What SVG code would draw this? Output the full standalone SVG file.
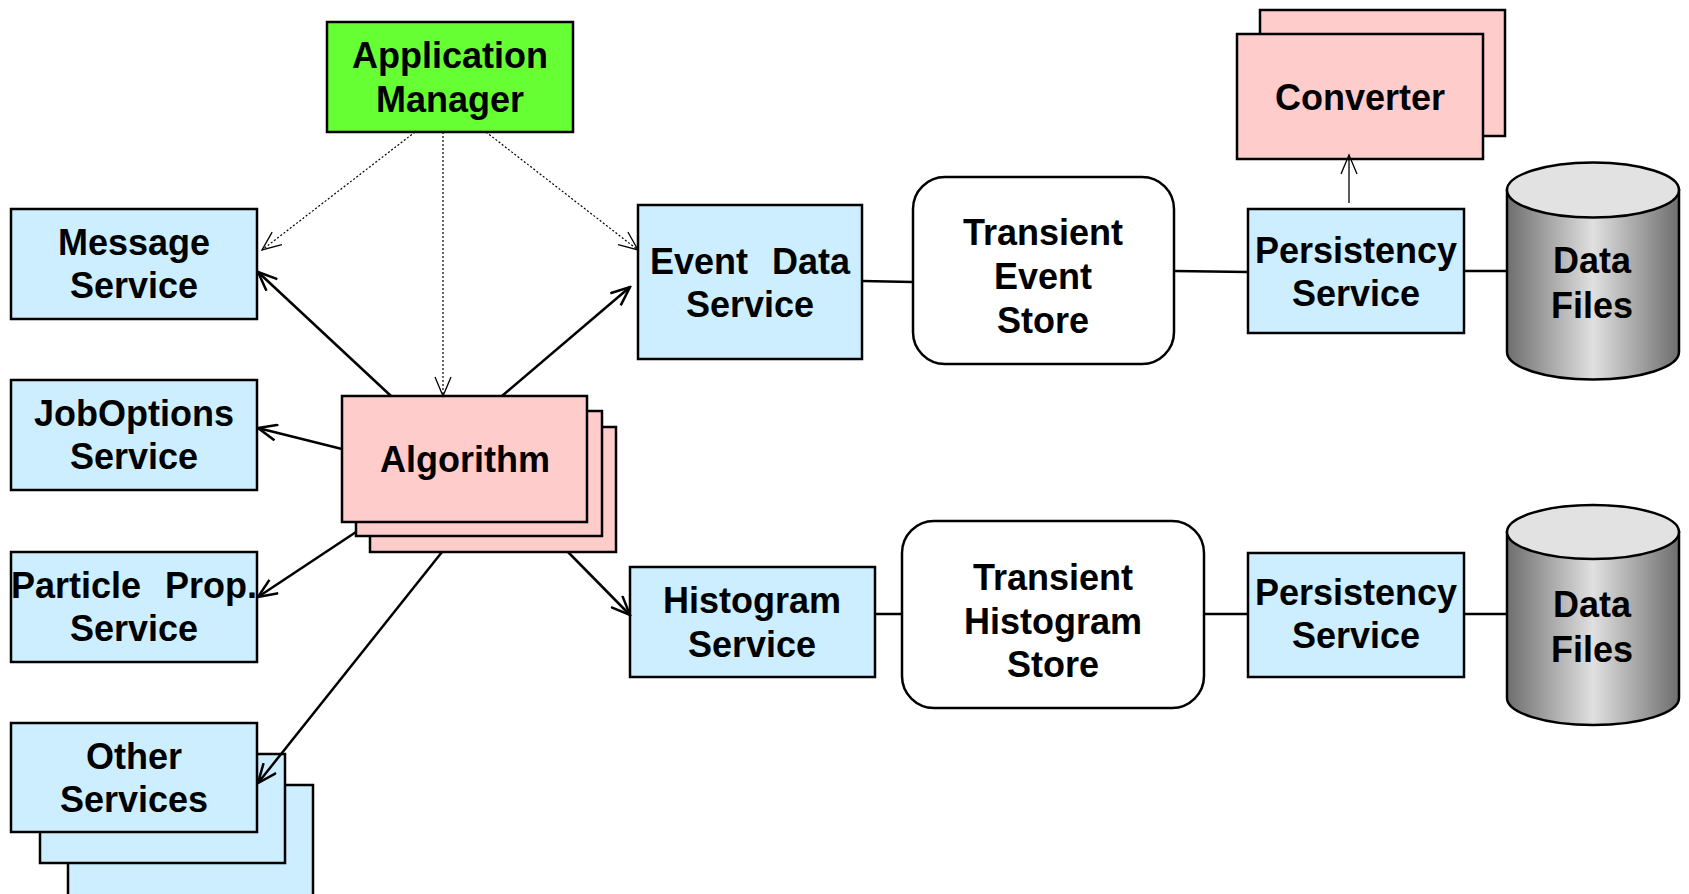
<svg xmlns="http://www.w3.org/2000/svg" width="1689" height="894" viewBox="0 0 1689 894">
<defs>
<style>
.box{stroke:#000;stroke-width:2.5}
.blue{fill:#cceeff}
.pink{fill:#ffcccc}
.green{fill:#66ff33}
.store{fill:#fff;stroke:#000;stroke-width:2.5}
.t{font-family:"Liberation Sans",Arial,sans-serif;font-weight:bold;font-size:36px;text-anchor:middle;fill:#000;word-spacing:14px}
.c{stroke:#000;stroke-width:2.5;fill:none}
.d{stroke:#000;stroke-width:1.2;fill:none;stroke-dasharray:2 2}
.thin{stroke:#000;stroke-width:1.3;fill:none}
</style>
<marker id="ah" viewBox="0 0 22 18" refX="20" refY="9" markerWidth="22" markerHeight="18" markerUnits="userSpaceOnUse" orient="auto">
<path d="M1,1 L20,9 L1,17" fill="none" stroke="#000" stroke-width="2.5"/>
</marker>
<marker id="ahd" viewBox="0 0 22 18" refX="20" refY="9" markerWidth="22" markerHeight="18" markerUnits="userSpaceOnUse" orient="auto">
<path d="M1,1 L20,9 L1,17" fill="none" stroke="#000" stroke-width="1.3"/>
</marker>
<linearGradient id="cyl" x1="0" y1="0" x2="1" y2="0">
<stop offset="0" stop-color="#6e6e6e"/>
<stop offset="0.5" stop-color="#e0e0e0"/>
<stop offset="1" stop-color="#6e6e6e"/>
</linearGradient>
</defs>
<rect width="1689" height="894" fill="#fff"/>

<g id="app-manager">
<rect class="box green" x="327" y="22" width="246" height="110"/>
<text class="t" x="450" y="68">Application</text>
<text class="t" x="450" y="112">Manager</text>
</g>

<g id="message-service">
<rect class="box blue" x="11" y="209" width="246" height="110"/>
<text class="t" x="134" y="255">Message</text>
<text class="t" x="134" y="298">Service</text>
</g>

<g id="joboptions-service">
<rect class="box blue" x="11" y="380" width="246" height="110"/>
<text class="t" x="134" y="426">JobOptions</text>
<text class="t" x="134" y="469">Service</text>
</g>

<g id="particle-service">
<rect class="box blue" x="11" y="552" width="246" height="110"/>
<text class="t" x="134" y="598">Particle Prop.</text>
<text class="t" x="134" y="641">Service</text>
</g>

<g id="other-services">
<rect class="box blue" x="68" y="785" width="245" height="120"/>
<rect class="box blue" x="40" y="754" width="245" height="109"/>
<rect class="box blue" x="11" y="723" width="246" height="109"/>
<text class="t" x="134" y="769">Other</text>
<text class="t" x="134" y="812">Services</text>
</g>

<g id="algorithm">
<rect class="box pink" x="370" y="427" width="246" height="125"/>
<rect class="box pink" x="356" y="411" width="246" height="125"/>
<rect class="box pink" x="342" y="396" width="245" height="126"/>
<text class="t" x="465" y="472">Algorithm</text>
</g>

<g id="event-data-service">
<rect class="box blue" x="638" y="205" width="224" height="154"/>
<text class="t" x="750" y="274">Event Data</text>
<text class="t" x="750" y="317">Service</text>
</g>

<g id="histogram-service">
<rect class="box blue" x="630" y="567" width="245" height="110"/>
<text class="t" x="752" y="613">Histogram</text>
<text class="t" x="752" y="657">Service</text>
</g>

<g id="transient-event-store">
<rect class="store" x="913" y="177" width="261" height="187" rx="32"/>
<text class="t" x="1043" y="245">Transient</text>
<text class="t" x="1043" y="289">Event</text>
<text class="t" x="1043" y="333">Store</text>
</g>

<g id="transient-histogram-store">
<rect class="store" x="902" y="521" width="302" height="187" rx="32"/>
<text class="t" x="1053" y="590">Transient</text>
<text class="t" x="1053" y="634">Histogram</text>
<text class="t" x="1053" y="677">Store</text>
</g>

<g id="converter">
<rect class="box pink" x="1260" y="10" width="245" height="126"/>
<rect class="box pink" x="1237" y="34" width="246" height="125"/>
<text class="t" x="1360" y="110">Converter</text>
</g>

<g id="persistency-event">
<rect class="box blue" x="1248" y="209" width="216" height="124"/>
<text class="t" x="1356" y="263">Persistency</text>
<text class="t" x="1356" y="306">Service</text>
</g>

<g id="persistency-histo">
<rect class="box blue" x="1248" y="553" width="216" height="124"/>
<text class="t" x="1356" y="605">Persistency</text>
<text class="t" x="1356" y="648">Service</text>
</g>

<g id="data-files-event">
<path d="M1507,190 L1507,352 A86,27.5 0 0 0 1679,352 L1679,190 Z" fill="url(#cyl)" stroke="#000" stroke-width="2.5"/>
<ellipse cx="1593" cy="190" rx="86" ry="27.5" fill="#e2e2e2" stroke="#000" stroke-width="2.5"/>
<text class="t" x="1592" y="273">Data</text>
<text class="t" x="1592" y="318">Files</text>
</g>

<g id="data-files-histo">
<path d="M1507,532 L1507,698 A86,27 0 0 0 1679,698 L1679,532 Z" fill="url(#cyl)" stroke="#000" stroke-width="2.5"/>
<ellipse cx="1593" cy="532" rx="86" ry="27" fill="#e2e2e2" stroke="#000" stroke-width="2.5"/>
<text class="t" x="1592" y="617">Data</text>
<text class="t" x="1592" y="662">Files</text>
</g>

<g id="connectors">
<line class="d" x1="415" y1="132" x2="262" y2="250" marker-end="url(#ahd)"/>
<line class="d" x1="443" y1="132" x2="443" y2="396" marker-end="url(#ahd)"/>
<line class="d" x1="486" y1="132" x2="638" y2="250" marker-end="url(#ahd)"/>
<line class="c" x1="391" y1="396" x2="258" y2="272" marker-end="url(#ah)"/>
<line class="c" x1="502" y1="396" x2="630" y2="287" marker-end="url(#ah)"/>
<line class="c" x1="342" y1="449" x2="258" y2="428" marker-end="url(#ah)"/>
<line class="c" x1="356" y1="532" x2="258" y2="597" marker-end="url(#ah)"/>
<line class="c" x1="442" y1="552" x2="258" y2="783" marker-end="url(#ah)"/>
<line class="c" x1="568" y1="552" x2="630" y2="615" marker-end="url(#ah)"/>
<line class="c" x1="862" y1="281" x2="913" y2="282"/>
<line class="c" x1="1174" y1="271" x2="1248" y2="272"/>
<line class="c" x1="1464" y1="271" x2="1507" y2="271"/>
<line class="c" x1="875" y1="614" x2="902" y2="614"/>
<line class="c" x1="1204" y1="614" x2="1248" y2="614"/>
<line class="c" x1="1464" y1="614" x2="1507" y2="614"/>
<line class="thin" x1="1349" y1="203" x2="1349" y2="155" marker-end="url(#ahd)"/>
</g>
</svg>
